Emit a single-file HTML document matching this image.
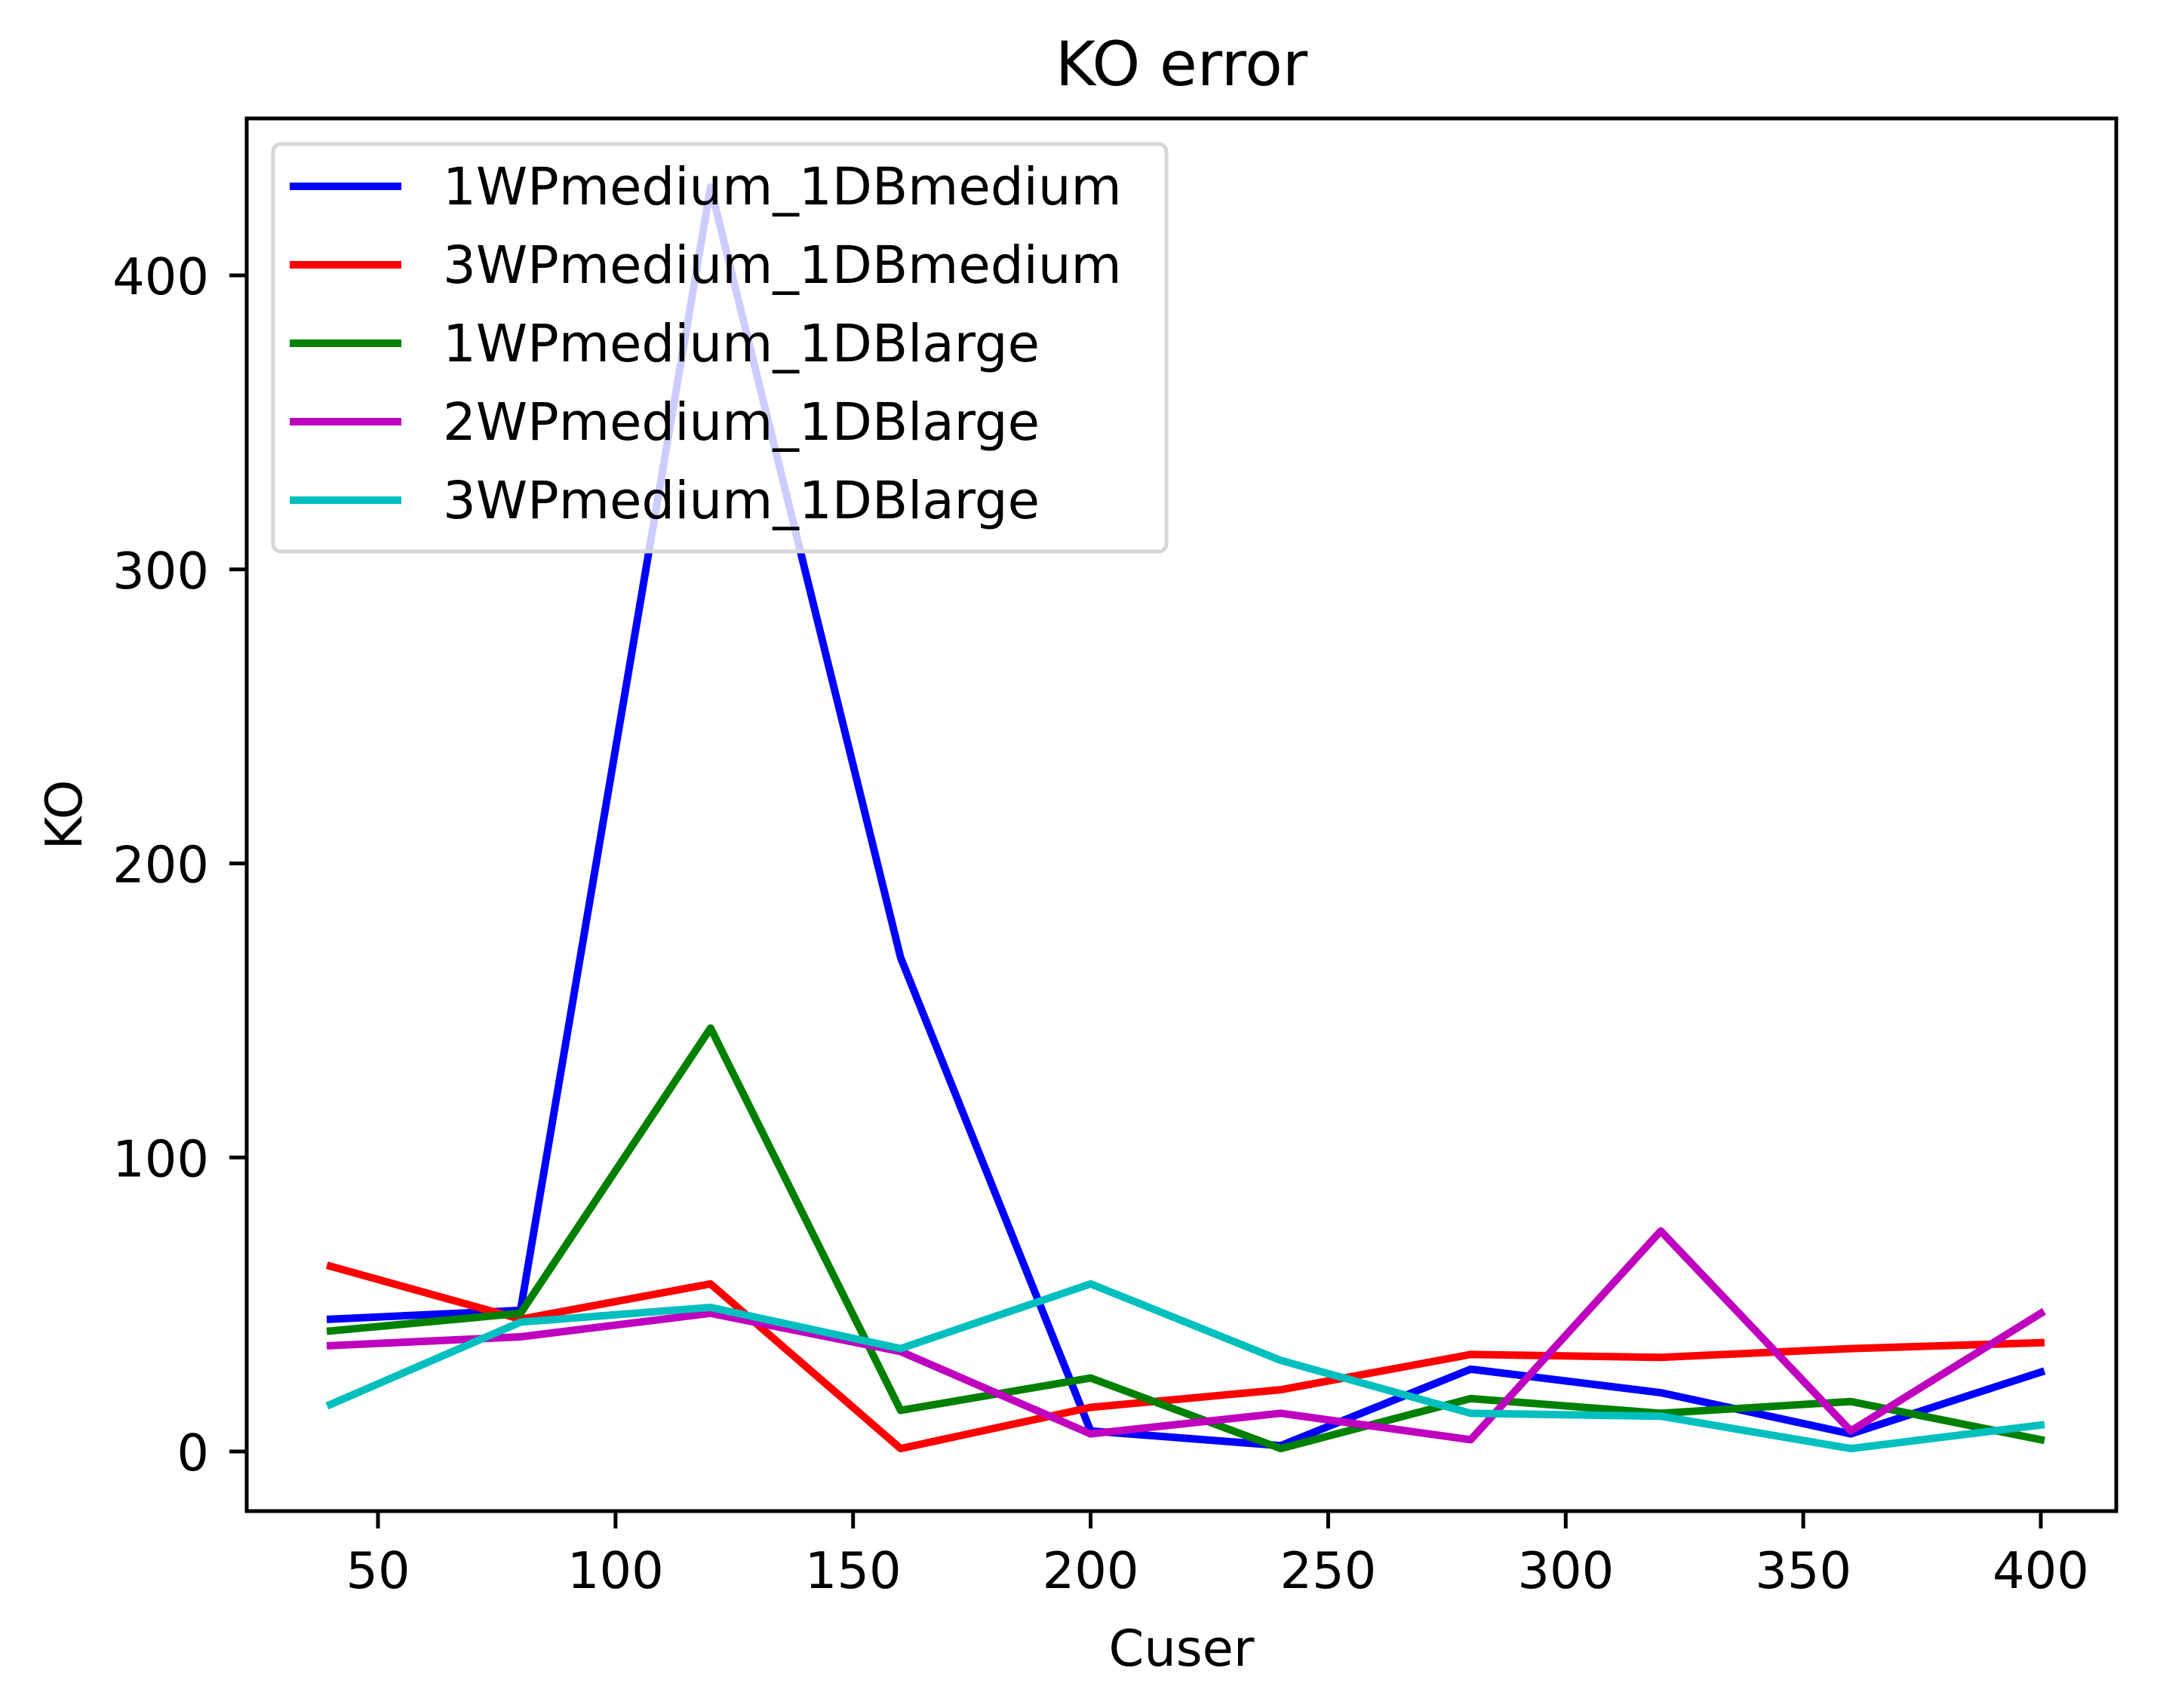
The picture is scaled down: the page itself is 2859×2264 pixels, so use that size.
<!DOCTYPE html>
<html><head><meta charset="utf-8"><style>
body{margin:0;background:#fff}
svg{display:block;font-family:"DejaVu Sans","Liberation Sans",sans-serif}
</style></head><body>
<svg id="chart" width="2859" height="2264" viewBox="0 0 2859 2264" xmlns="http://www.w3.org/2000/svg">
<rect width="2859" height="2264" fill="#fff"/>
<text x="1566" y="113" font-size="81" text-anchor="middle">KO error</text>
<text x="1566" y="2208" font-size="67" text-anchor="middle">Cuser</text>
<text x="0" y="0" font-size="67" text-anchor="middle" transform="translate(108,1080) rotate(-90)">KO</text>
<g id="plot"></g>
</svg>
<script>
const xValues=[40,80,120,160,200,240,280,320,360,400];
const seriesNames=["1WPmedium_1DBmedium","3WPmedium_1DBmedium","1WPmedium_1DBlarge","2WPmedium_1DBlarge","3WPmedium_1DBlarge"];
const blueValues=[45,48,430,168,7,2,28,20,6,27];
const redValues=[63,45,57,1,15,21,33,32,35,37];
const greenValues=[41,47,144,14,25,1,18,13,17,4];
const magentaValues=[36,39,47,34,6,13,4,75,7,47];
const cyanValues=[16,44,49,35,57,31,13,12,1,9];
const xTicks=[50,100,150,200,250,300,350,400];
const yTicks=[0,100,200,300,400];

const L=327,R=2805,T=157,B=2003;
const xs=v=>501+(v-50)*(2705-501)/350;
const ys=v=>1924-v*(1924-365)/400;
const NS="http://www.w3.org/2000/svg";
const g=document.getElementById('plot');
function mk(t,a){const e=document.createElementNS(NS,t);for(const k in a)e.setAttribute(k,a[k]);return e;}

const seriesData=[blueValues,redValues,greenValues,magentaValues,cyanValues];
const colors=["#0000ff","#ff0000","#008000","#bf00bf","#00bfbf"];
seriesData.forEach((d,i)=>{
  const p=mk('polyline',{points:d.map((v,j)=>xs(xValues[j])+','+ys(v)).join(' '),fill:'none',stroke:colors[i],'stroke-width':10,'stroke-linejoin':'round','stroke-linecap':'square'});
  
  
  g.appendChild(p);
});

const frame=mk('rect',{x:L,y:T,width:R-L,height:B-T,fill:'none',stroke:'#000','stroke-width':5});


g.appendChild(frame);

xTicks.forEach(v=>{
  const x=xs(v);
  const t=mk('line',{x1:x,x2:x,y1:B,y2:B+23,stroke:'#000','stroke-width':5});
  
  
  g.appendChild(t);
  const l=mk('text',{x:x,y:2105,'font-size':67,'text-anchor':'middle'});
  l.textContent=v;
  
  
  g.appendChild(l);
});
yTicks.forEach(v=>{
  const y=ys(v);
  const t=mk('line',{x1:L-23,x2:L,y1:y,y2:y,stroke:'#000','stroke-width':5});
  
  
  g.appendChild(t);
  const l=mk('text',{x:277,y:y+25,'font-size':67,'text-anchor':'end'});
  l.textContent=v;
  
  
  g.appendChild(l);
});

const box=mk('rect',{x:362,y:191,width:1184,height:540,rx:10,fill:'#fff','fill-opacity':0.8,stroke:'#d6d6d6','stroke-width':5});


g.appendChild(box);
seriesNames.forEach((n,i)=>{
  const y=247+i*104;
  const ln=mk('line',{x1:384,x2:532,y1:y,y2:y,stroke:colors[i],'stroke-width':10});
  
  
  g.appendChild(ln);
  const tx=mk('text',{x:587,y:y+24,'font-size':69});
  tx.textContent=n;
  
  
  g.appendChild(tx);
});
</script>
</body></html>
